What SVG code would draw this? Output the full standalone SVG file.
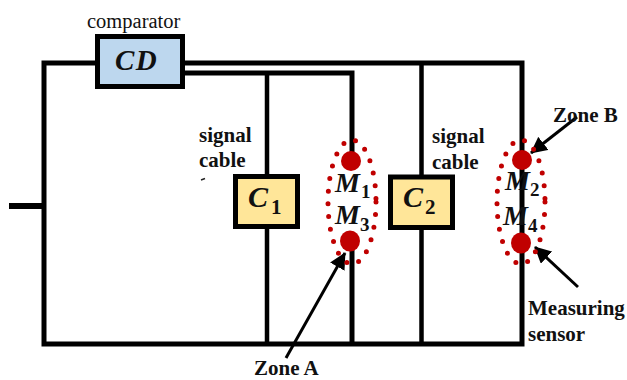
<svg xmlns="http://www.w3.org/2000/svg" width="627" height="380" viewBox="0 0 627 380">
<defs>
<marker id="ah" viewBox="0 0 10 10" refX="9.5" refY="5" markerWidth="5.5" markerHeight="5.5" markerUnits="strokeWidth" orient="auto"><path d="M0 0L10 5L0 10Z" fill="#000"/></marker>
</defs>
<style>
.w{fill:none;stroke:#000;stroke-width:5}
.t{stroke-width:4.5}
.lb{font:bold 21px "Liberation Serif",serif;fill:#111}
.m{font:italic bold 28px "Liberation Serif",serif;fill:#111}
.b{font:italic bold 30px "Liberation Serif",serif;fill:#111}
.s{font:bold 19px "Liberation Serif",serif;fill:#111}
.ss{font:bold 21px "Liberation Serif",serif;fill:#111}
.d{fill:none;stroke:#c00000;stroke-width:5;stroke-linecap:round;stroke-dasharray:0 12.700}
.a{fill:none;stroke:#000;stroke-width:3;marker-end:url(#ah)}
.box{stroke:#000;stroke-width:5}
</style>
<g id="connectors">
<path class="w" d="M96 63H44V344H522V63H184"/>
<path class="w" d="M184 73H352V160"/>
<path class="w t" d="M267 73V344"/>
<path class="w" d="M352 240V344"/>
<path class="w t" d="M421.500 63V344"/>
<path class="w" style="stroke-width:6" d="M9 206H44"/>
<path class="a" d="M577 117L531 153"/>
<path class="a" d="M286 358L345 253"/>
<path class="a" d="M578 287L535 247"/>
</g>
<g id="comparator"><rect class="box" x="97.500" y="36.500" width="85" height="50" fill="#bdd7ee"/><text x="115" y="70" class="b" style="font-size:29px;letter-spacing:1.500px">CD</text><text x="87" y="28" style="font:20.500px 'Liberation Serif',serif" fill="#111">comparator</text></g>
<g id="c1"><rect class="box" x="235.500" y="176.500" width="62" height="50" fill="#ffe699"/><text x="248" y="207" class="b">C</text><text x="271" y="214" class="ss">1</text></g>
<g id="c2"><rect class="box" x="390.500" y="177" width="62" height="50.500" fill="#ffe699"/><text x="403" y="207" class="b">C</text><text x="425" y="214" class="ss">2</text></g>
<g id="zone-a"><ellipse class="d" cx="352" cy="202" rx="24" ry="62"/><circle cx="351" cy="161" r="10" fill="#c00000"/><ellipse cx="350" cy="241" rx="10" ry="10.500" fill="#c00000"/><text x="335" y="192" class="m">M</text><text x="361" y="198" class="s">1</text><text x="335" y="224" class="m">M</text><text x="360" y="231" class="s">3</text></g>
<g id="zone-b"><ellipse class="d" cx="521" cy="202" rx="24" ry="62"/><circle cx="522" cy="160" r="10" fill="#c00000"/><ellipse cx="521" cy="243" rx="10" ry="10.500" fill="#c00000"/><text x="505" y="190" class="m">M</text><text x="530" y="196" class="s">2</text><text x="503" y="225" class="m">M</text><text x="528" y="232" class="s">4</text></g>
<g id="labels">
<text class="lb" x="199" y="142">signal</text><text class="lb" x="199" y="167">cable</text>
<path d="M201 180L205 178.500" stroke="#222" stroke-width="1.500"/>
<text class="lb" x="432" y="143">signal</text><text class="lb" x="432" y="169">cable</text>
<text class="lb" x="553" y="122">Zone B</text>
<text class="lb" x="254" y="375">Zone A</text>
<text class="lb" x="528" y="315">Measuring</text><text class="lb" x="528" y="341">sensor</text>
</g>
</svg>
